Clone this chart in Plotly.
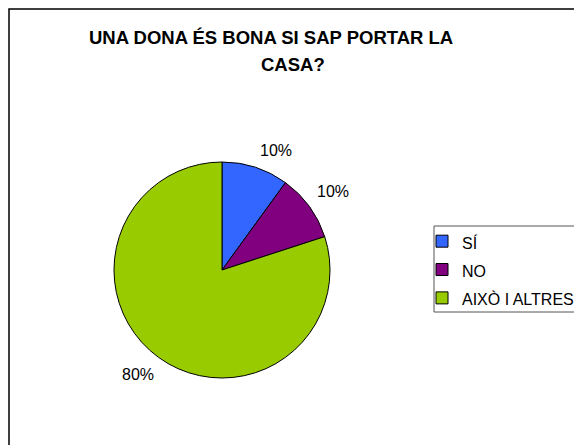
import math
import plotly.graph_objects as go

categories = ["SÍ", "NO", "AIXÒ I ALTRES"]
values = [10, 10, 80]
colors = ["#3366FF", "#800080", "#99CC00"]
title_line1 = "UNA DONA ÉS BONA SI SAP PORTAR LA"
title_line2 = "CASA?"

# page is offset by the default 8px body margin
OFF = 8
W, H = 582 - OFF, 445 - OFF
FONT = "Liberation Sans, Arial, sans-serif"

def px(x):
    return (x - OFF) / W

def py(y):
    return 1 - (y - OFF) / H

# pie geometry in page pixels
CX, CY, R = 222, 270, 108

fig = go.Figure()
fig.add_trace(go.Pie(
    labels=[f"<span style='font-size:16px'>{c}</span>" for c in categories],
    values=values,
    sort=False,
    direction="clockwise",
    rotation=0,
    marker=dict(colors=colors, line=dict(color="black", width=1)),
    textinfo="none",
    domain=dict(x=[px(CX - R), px(CX + R)], y=[py(CY + R), py(CY - R)]),
    hoverinfo="label+percent",
))

# percentage labels placed outside, Excel-style, derived from the values
total = sum(values)
annotations = []
cum = 0
for v in values:
    mid = (cum + v / 2) / total * 2 * math.pi
    cum += v
    dx, dy = math.sin(mid), -math.cos(mid)
    rl = R + 6
    lx, ly = CX + rl * dx, CY + rl * dy
    annotations.append(dict(
        text=f"{round(v / total * 100)}%", x=px(lx + (1 if dx >= 0 else 1)), y=py(ly + (-1 if dy < 0 else 2)),
        xref="paper", yref="paper", showarrow=False,
        xanchor="left" if dx >= 0 else "right",
        yanchor="bottom" if dy < 0 else "top",
        font=dict(family=FONT, size=16, color="black"),
    ))

annotations += [
    dict(text=f"<b>{title_line1}</b>", x=px(271), y=py(37), xref="paper", yref="paper",
         xanchor="center", yanchor="middle", showarrow=False,
         font=dict(family=FONT, size=18.5, color="black")),
    dict(text=f"<b>{title_line2}</b>", x=px(293), y=py(64), xref="paper", yref="paper",
         xanchor="center", yanchor="middle", showarrow=False,
         font=dict(family=FONT, size=18.5, color="black")),
]

fig.update_layout(
    width=W, height=H,
    margin=dict(l=0, r=0, t=0, b=0),
    paper_bgcolor="white",
    plot_bgcolor="white",
    font=dict(family=FONT, color="black"),
    showlegend=True,
    legend=dict(
        x=px(422), y=py(222), xanchor="left", yanchor="top",
        font=dict(family=FONT, size=19.5, color="black"),
        bgcolor="rgba(0,0,0,0)", borderwidth=0,
        traceorder="normal",
    ),
    annotations=annotations,
    shapes=[
        dict(type="rect", xref="paper", yref="paper",
             x0=px(9), y0=-0.1, x1=1.1, y1=py(9),
             line=dict(color="black", width=1.5), fillcolor="rgba(0,0,0,0)", layer="below"),
        dict(type="rect", xref="paper", yref="paper",
             x0=px(434), y0=py(312), x1=px(581), y1=py(226),
             line=dict(color="#555555", width=1), fillcolor="white", layer="below"),
    ],
)

fig.write_html("out.html")
